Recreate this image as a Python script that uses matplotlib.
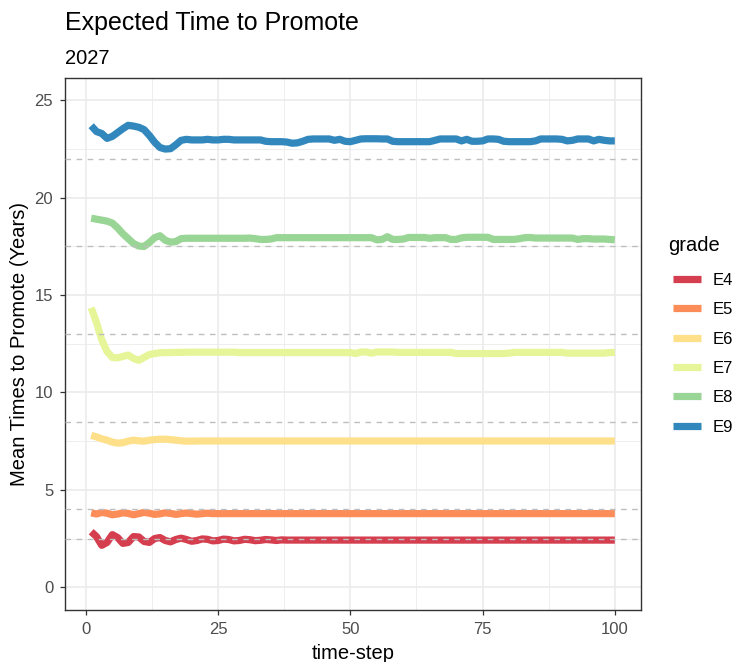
import matplotlib
matplotlib.use("Agg")
import matplotlib.pyplot as plt
from matplotlib.ticker import MultipleLocator

plt.rcParams['font.family'] = ['Liberation Sans', 'DejaVu Sans']

timestep = list(range(1, 101))

grades = ["E4", "E5", "E6", "E7", "E8", "E9"]
colors = ["#D53E4F", "#FC8D59", "#FEE08B", "#E6F598", "#99D594", "#3288BD"]

E4 = [2.85, 2.60, 2.15, 2.30, 2.70, 2.55, 2.25, 2.30, 2.60, 2.58,
      2.35, 2.30, 2.50, 2.55, 2.40, 2.33, 2.45, 2.52, 2.45, 2.36,
      2.40, 2.48, 2.46, 2.38, 2.40, 2.47, 2.45, 2.38, 2.40, 2.46,
      2.44, 2.39, 2.41, 2.45, 2.43, 2.40, 2.43, 2.42, 2.42, 2.42,
      2.42, 2.42, 2.42, 2.42, 2.42, 2.42, 2.42, 2.42, 2.42, 2.42,
      2.42, 2.42, 2.42, 2.42, 2.42, 2.42, 2.42, 2.42, 2.42, 2.42,
      2.42, 2.42, 2.42, 2.42, 2.42, 2.42, 2.42, 2.42, 2.42, 2.42,
      2.42, 2.42, 2.42, 2.42, 2.42, 2.42, 2.42, 2.42, 2.42, 2.42,
      2.42, 2.42, 2.42, 2.42, 2.42, 2.42, 2.42, 2.42, 2.42, 2.42,
      2.42, 2.42, 2.42, 2.42, 2.42, 2.42, 2.42, 2.42, 2.42, 2.42]

E5 = [3.82, 3.76, 3.84, 3.80, 3.72, 3.76, 3.82, 3.79, 3.72, 3.78,
      3.84, 3.80, 3.74, 3.77, 3.82, 3.79, 3.74, 3.78, 3.81, 3.78,
      3.75, 3.78, 3.80, 3.78, 3.78, 3.78, 3.78, 3.78, 3.78, 3.78,
      3.78, 3.78, 3.78, 3.78, 3.78, 3.78, 3.78, 3.78, 3.78, 3.78,
      3.78, 3.78, 3.78, 3.78, 3.78, 3.78, 3.78, 3.78, 3.78, 3.78,
      3.78, 3.78, 3.78, 3.78, 3.78, 3.78, 3.78, 3.78, 3.78, 3.78,
      3.78, 3.78, 3.78, 3.78, 3.78, 3.78, 3.78, 3.78, 3.78, 3.78,
      3.78, 3.78, 3.78, 3.78, 3.78, 3.78, 3.78, 3.78, 3.78, 3.78,
      3.78, 3.78, 3.78, 3.78, 3.78, 3.78, 3.78, 3.78, 3.78, 3.78,
      3.78, 3.78, 3.78, 3.78, 3.78, 3.78, 3.78, 3.78, 3.78, 3.78]

E6 = [7.80, 7.72, 7.62, 7.55, 7.45, 7.40, 7.42, 7.50, 7.55, 7.52,
      7.50, 7.55, 7.58, 7.60, 7.60, 7.58, 7.55, 7.52, 7.50, 7.50,
      7.51, 7.51, 7.51, 7.51, 7.51, 7.51, 7.51, 7.51, 7.51, 7.51,
      7.51, 7.51, 7.51, 7.51, 7.51, 7.51, 7.51, 7.51, 7.51, 7.51,
      7.51, 7.51, 7.51, 7.51, 7.51, 7.51, 7.51, 7.51, 7.51, 7.51,
      7.51, 7.51, 7.51, 7.51, 7.51, 7.51, 7.51, 7.51, 7.51, 7.51,
      7.51, 7.51, 7.51, 7.51, 7.51, 7.51, 7.51, 7.51, 7.51, 7.51,
      7.51, 7.51, 7.51, 7.51, 7.51, 7.51, 7.51, 7.51, 7.51, 7.51,
      7.51, 7.51, 7.51, 7.51, 7.51, 7.51, 7.51, 7.51, 7.51, 7.51,
      7.51, 7.51, 7.51, 7.51, 7.51, 7.51, 7.51, 7.51, 7.51, 7.51]

E7 = [14.35, 13.60, 12.70, 12.10, 11.80, 11.78, 11.85, 11.92, 11.75, 11.65,
      11.80, 11.95, 12.00, 12.04, 12.05, 12.05, 12.06, 12.06, 12.07, 12.07,
      12.07, 12.07, 12.07, 12.07, 12.07, 12.07, 12.07, 12.07, 12.05, 12.05,
      12.05, 12.05, 12.05, 12.05, 12.05, 12.05, 12.05, 12.05, 12.05, 12.05,
      12.05, 12.05, 12.05, 12.05, 12.05, 12.05, 12.05, 12.05, 12.05, 12.05,
      12.00, 12.08, 12.08, 12.02, 12.08, 12.08, 12.08, 12.08, 12.06, 12.06,
      12.06, 12.06, 12.06, 12.06, 12.06, 12.06, 12.06, 12.06, 12.06, 12.00,
      12.00, 12.00, 12.00, 12.00, 12.00, 12.00, 12.00, 12.00, 12.00, 12.02,
      12.06, 12.06, 12.06, 12.06, 12.06, 12.06, 12.06, 12.06, 12.06, 12.06,
      12.02, 12.02, 12.02, 12.02, 12.02, 12.02, 12.02, 12.02, 12.05, 12.06]

E8 = [18.95, 18.90, 18.85, 18.80, 18.70, 18.45, 18.15, 17.90, 17.65, 17.52,
      17.50, 17.70, 17.95, 18.05, 17.82, 17.72, 17.75, 17.90, 17.92, 17.92,
      17.92, 17.92, 17.92, 17.92, 17.92, 17.92, 17.92, 17.92, 17.92, 17.92,
      17.93, 17.90, 17.86, 17.86, 17.88, 17.95, 17.95, 17.95, 17.95, 17.95,
      17.95, 17.95, 17.95, 17.95, 17.95, 17.95, 17.95, 17.95, 17.95, 17.95,
      17.95, 17.95, 17.95, 17.95, 17.84, 17.86, 18.00, 17.86, 17.86, 17.88,
      17.96, 17.96, 17.96, 17.96, 17.92, 17.95, 17.95, 17.95, 17.86, 17.86,
      17.94, 17.97, 17.97, 17.97, 17.97, 17.97, 17.86, 17.86, 17.86, 17.86,
      17.86, 17.90, 17.95, 17.96, 17.93, 17.93, 17.93, 17.93, 17.93, 17.93,
      17.93, 17.93, 17.86, 17.90, 17.90, 17.88, 17.88, 17.88, 17.86, 17.84]

E9 = [23.70, 23.40, 23.30, 23.05, 23.15, 23.35, 23.55, 23.72, 23.68, 23.62,
      23.50, 23.20, 22.85, 22.58, 22.50, 22.52, 22.72, 22.95, 23.00, 22.97,
      22.97, 22.97, 23.00, 22.97, 22.97, 23.00, 23.00, 22.97, 22.97, 22.97,
      22.97, 22.97, 22.97, 22.90, 22.88, 22.88, 22.88, 22.86, 22.80, 22.82,
      22.90, 23.00, 23.02, 23.02, 23.02, 23.02, 22.95, 23.00, 22.90, 22.88,
      22.95, 23.02, 23.03, 23.03, 23.03, 23.02, 23.02, 22.90, 22.88, 22.88,
      22.88, 22.88, 22.88, 22.88, 22.88, 22.95, 23.02, 23.02, 23.02, 23.02,
      22.92, 23.00, 22.90, 22.90, 22.92, 23.02, 23.02, 23.00, 22.90, 22.88,
      22.88, 22.88, 22.88, 22.88, 22.92, 23.02, 23.02, 23.02, 23.02, 23.00,
      22.92, 22.95, 23.02, 23.02, 23.02, 22.92, 23.00, 22.95, 22.92, 22.92]

series = [E4, E5, E6, E7, E8, E9]
reference_levels = [2.5, 4.0, 8.5, 13.0, 17.5, 22.0]

title = "Expected Time to Promote"
subtitle = "2027"
xlabel = "time-step"
ylabel = "Mean Times to Promote (Years)"
legend_title = "grade"

W, H = 734, 662
fig = plt.figure(figsize=(W / 100, H / 100), dpi=100)
left, right, top, bottom = 65, 641, 78, 610
ax = fig.add_axes([left / W, 1 - bottom / H, (right - left) / W, (bottom - top) / H])

ax.set_facecolor("white")
ax.set_xlim(-3.95, 104.95)
ax.set_ylim(-1.17, 26.15)
ax.xaxis.set_major_locator(MultipleLocator(25))
ax.xaxis.set_minor_locator(MultipleLocator(12.5))
ax.yaxis.set_major_locator(MultipleLocator(5))
ax.yaxis.set_minor_locator(MultipleLocator(2.5))
ax.grid(which="major", color="#EBEBEB", linewidth=1.2, zorder=0)
ax.grid(which="minor", color="#EBEBEB", linewidth=0.6, zorder=0)
ax.set_axisbelow(True)

LW = 5.2
for vals, col, name in zip(series, colors, grades):
    ax.plot(timestep, vals, color=col, linewidth=LW, label=name,
            solid_capstyle="butt", solid_joinstyle="round", zorder=3)

for lvl in reference_levels:
    ax.axhline(lvl, color="#BEBEBE", linewidth=1.0, linestyle=(0, (4, 4)), zorder=4)

for sp in ax.spines.values():
    sp.set_color("#333333")
    sp.set_linewidth(1.0)

ax.tick_params(which="major", length=3.5, width=0.9, color="#333333",
               labelcolor="#4D4D4D", labelsize=12, pad=5)
ax.tick_params(which="minor", length=0)

ax.set_xlabel(xlabel, fontsize=14.5, color="black", labelpad=5)
ax.set_ylabel(ylabel, fontsize=14.5, color="black", labelpad=4)

fig.text(left / W, 1 - 23 / H, title, fontsize=18, color="black", va="center", ha="left")
fig.text(left / W, 1 - 58 / H, subtitle, fontsize=14.5, color="black", va="center", ha="left")

fig.text(668 / W, 1 - 245 / H, legend_title, fontsize=14.5, color="black", va="center", ha="left")
leg = fig.legend(loc="upper left", bbox_to_anchor=(673 / W, 1 - 273 / H), frameon=False,
                 fontsize=12, handlelength=1.65, handletextpad=0.75, labelspacing=0.86,
                 borderaxespad=0, borderpad=0)
for line in leg.get_lines():
    line.set_linewidth(LW)

fig.savefig("out.png", dpi=100, facecolor="white")
